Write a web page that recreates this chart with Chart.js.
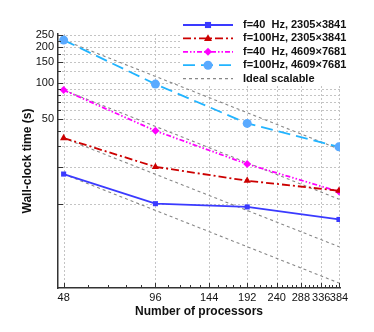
<!DOCTYPE html>
<html>
<head>
<meta charset="utf-8">
<script src="https://cdn.jsdelivr.net/npm/chart.js@4.4.1/dist/chart.umd.min.js"></script>
<style>
  html, body { margin: 0; padding: 0; background: #fff; }
  #wrap { width: 374px; height: 332px; }
</style>
</head>
<body>
<div id="wrap"><canvas id="scalingChart"></canvas></div>
<script>
// ---- data ----
const processors = [48, 96, 192, 384];
const f40Coarse = [17.6, 10.0, 9.4, 7.4];
const f100Coarse = [35.0, 20.2, 15.5, 12.8];
const f40Fine = [87.5, 40.2, 21.3, 12.6];
const f100Fine = [227, 98, 46.3, 29.6];

// ideal scaling reference lines (end points)
const idealX = [48, 384];
const idealF100Fine = [227, 28.4];
const idealF40Fine = [87.5, 10.9];
const idealF100Coarse = [35.0, 4.4];
const idealF40Coarse = [17.6, 2.2];

const seriesNames = [
    'f=40  Hz, 2305×3841',
    'f=100Hz, 2305×3841',
    'f=40  Hz, 4609×7681',
    'f=100Hz, 4609×7681',
    'Ideal scalable'
];

const xTickValues = [48, 96, 144, 192, 240, 288, 336, 384];
const xMinorStep = 9.6;
const yTickValues = [10, 20, 30, 40, 50, 60, 70, 80, 90, 100, 125, 150, 175, 200, 225, 250];
const yTickLabels = [50, 100, 150, 200, 250];

const FONT = '"Liberation Sans", Arial, Helvetica, sans-serif';

function pts(xs, ys) {
    return xs.map((x, i) => ({ x: x, y: ys[i] }));
}

const styles = [
    { color: '#3a3aff', marker: '#3a3aff', dash: [], style: 'rect', radius: 3.6 },
    { color: '#cc0000', marker: '#cc0000', dash: [8, 3, 2, 3], style: 'triangle', radius: 4.2 },
    { color: '#ff00ff', marker: '#ff00ff', dash: [5, 2, 1.5, 2, 1.5, 2], style: 'rectRot', radius: 4 },
    { color: '#22b4ff', marker: '#5aaaff', dash: [12, 6], style: 'circle', radius: 4.5 },
    { color: '#888888', marker: '#888888', dash: [3, 3], style: false, radius: 0 }
];

function mainSet(i, values) {
    const s = styles[i];
    return {
        label: seriesNames[i],
        data: pts(processors, values),
        borderColor: s.color,
        backgroundColor: s.marker,
        borderWidth: 1.8,
        borderDash: s.dash,
        pointStyle: s.style,
        pointRadius: s.radius,
        pointBorderWidth: 0,
        pointBackgroundColor: s.marker,
        pointBorderColor: s.marker,
        tension: 0
    };
}

function idealSet(values) {
    return {
        label: seriesNames[4],
        data: pts(idealX, values),
        borderColor: '#888888',
        borderWidth: 1.1,
        borderDash: [3, 3],
        pointRadius: 0,
        tension: 0
    };
}

// draw a marker for the legend
function drawMarker(ctx, style, x, y, r, color) {
    ctx.save();
    ctx.fillStyle = color;
    ctx.beginPath();
    if (style === 'rect') {
        ctx.rect(x - r * 0.85, y - r * 0.85, r * 1.7, r * 1.7);
    } else if (style === 'triangle') {
        ctx.moveTo(x, y - r);
        ctx.lineTo(x + r * 0.95, y + r * 0.6);
        ctx.lineTo(x - r * 0.95, y + r * 0.6);
        ctx.closePath();
    } else if (style === 'rectRot') {
        ctx.moveTo(x, y - r);
        ctx.lineTo(x + r, y);
        ctx.lineTo(x, y + r);
        ctx.lineTo(x - r, y);
        ctx.closePath();
    } else if (style === 'circle') {
        ctx.arc(x, y, r, 0, Math.PI * 2);
    }
    ctx.fill();
    ctx.restore();
}

/* ================= GRID (dotted, light) ================= */
const dottedGrid = {
    id: 'dottedGrid',
    beforeDatasetsDraw(chart) {
        const ctx = chart.ctx;
        const xs = chart.scales.x, ys = chart.scales.y;
        const area = chart.chartArea;
        ctx.save();
        ctx.strokeStyle = '#c4c4c4';
        ctx.lineWidth = 1;
        ctx.setLineDash([2, 2]);
        ctx.beginPath();
        xTickValues.forEach(v => {
            const px = Math.round(xs.getPixelForValue(v)) + 0.5;
            ctx.moveTo(px, area.bottom);
            ctx.lineTo(px, area.top);
        });
        yTickValues.forEach(v => {
            const py = Math.round(ys.getPixelForValue(v)) + 0.5;
            ctx.moveTo(area.left, py);
            ctx.lineTo(area.right, py);
        });
        ctx.stroke();
        ctx.restore();
    }
};

/* ================= LEGEND (inside plot, top right) ================= */
const insideLegend = {
    id: 'insideLegend',
    afterDraw(chart) {
        const ctx = chart.ctx;
        ctx.save();
        ctx.fillStyle = '#fff';
        ctx.fillRect(180, 16, 190, 70);
        const x0 = 183, x1 = 233, tx = 243, y0 = 25, dy = 13.4;
        ctx.font = 'bold 11px ' + FONT;
        ctx.textBaseline = 'middle';
        seriesNames.forEach((name, i) => {
            const s = styles[i];
            const y = y0 + i * dy;
            ctx.save();
            ctx.strokeStyle = s.color;
            ctx.lineWidth = i === 4 ? 1.1 : 1.8;
            ctx.setLineDash(s.dash);
            ctx.beginPath();
            ctx.moveTo(x0, y);
            ctx.lineTo(x1, y);
            ctx.stroke();
            ctx.restore();
            if (s.style) drawMarker(ctx, s.style, (x0 + x1) / 2, y, s.radius, s.marker);
            ctx.fillStyle = '#111';
            ctx.fillText(name, tx, y);
        });
        ctx.restore();
    }
};

/* ================= INWARD TICKS ================= */
const inwardTicks = {
    id: 'inwardTicks',
    afterDraw(chart) {
        const ctx = chart.ctx;
        const xs = chart.scales.x, ys = chart.scales.y;
        const area = chart.chartArea;
        ctx.save();
        ctx.strokeStyle = '#333';
        ctx.lineWidth = 1;
        ctx.beginPath();
        // x minor ticks
        for (let v = xTickValues[0] + xMinorStep; v < xTickValues[xTickValues.length - 1]; v += xMinorStep) {
            const px = Math.round(xs.getPixelForValue(v)) + 0.5;
            ctx.moveTo(px, area.bottom);
            ctx.lineTo(px, area.bottom - 3);
        }
        xTickValues.forEach(v => {
            const px = Math.round(xs.getPixelForValue(v)) + 0.5;
            ctx.moveTo(px, area.bottom);
            ctx.lineTo(px, area.bottom - 5);
        });
        yTickValues.forEach(v => {
            const py = Math.round(ys.getPixelForValue(v)) + 0.5;
            const len = (yTickLabels.includes(v) || v === 10 || v === 20) ? 5 : 3;
            ctx.moveTo(area.left, py);
            ctx.lineTo(area.left + len, py);
        });
        ctx.stroke();
        ctx.restore();
    }
};

const datasets = [
    mainSet(0, f40Coarse),
    mainSet(1, f100Coarse),
    mainSet(2, f40Fine),
    mainSet(3, f100Fine),
    idealSet(idealF100Fine),
    idealSet(idealF40Fine),
    idealSet(idealF100Coarse),
    idealSet(idealF40Coarse)
];

new Chart(document.getElementById('scalingChart'), {
    type: 'line',
    data: { datasets: datasets },
    options: {
        responsive: true,
        maintainAspectRatio: false,
        animation: false,
        layout: { padding: { left: 0, top: 34, right: 34, bottom: 0 } },
        plugins: {
            legend: { display: false },
            tooltip: { enabled: false }
        },
        scales: {
            x: {
                type: 'logarithmic',
                min: 46,
                max: 387,
                afterBuildTicks: scale => {
                    scale.ticks = xTickValues.map(v => ({ value: v }));
                },
                afterFit: scale => { scale.height = 44; },
                ticks: {
                    autoSkip: false,
                    maxRotation: 0,
                    padding: 3,
                    color: '#111',
                    font: { family: FONT, size: 11 },
                    callback: v => String(v)
                },
                grid: { display: false, drawTicks: false },
                border: { display: true, color: '#333', width: 1.5 },
                title: {
                    display: true,
                    text: 'Number of processors',
                    color: '#111',
                    font: { family: FONT, size: 12, weight: 'bold' },
                    padding: { top: 0, bottom: 13 }
                }
            },
            y: {
                type: 'logarithmic',
                min: 2,
                max: 255,
                afterBuildTicks: scale => {
                    scale.ticks = yTickValues.map(v => ({ value: v }));
                },
                afterFit: scale => { scale.width = 58; },
                ticks: {
                    autoSkip: false,
                    padding: 4,
                    color: '#111',
                    font: { family: FONT, size: 11 },
                    callback: v => yTickLabels.includes(v) ? String(v) : ''
                },
                grid: { display: false, drawTicks: false },
                border: { display: true, color: '#333', width: 1.5 },
                title: {
                    display: true,
                    text: 'Wall-clock time (s)',
                    color: '#111',
                    font: { family: FONT, size: 12, weight: 'bold' },
                    padding: { top: 20, bottom: 0 }
                }
            }
        }
    },
    plugins: [dottedGrid, inwardTicks, insideLegend]
});
</script>
</body>
</html>
